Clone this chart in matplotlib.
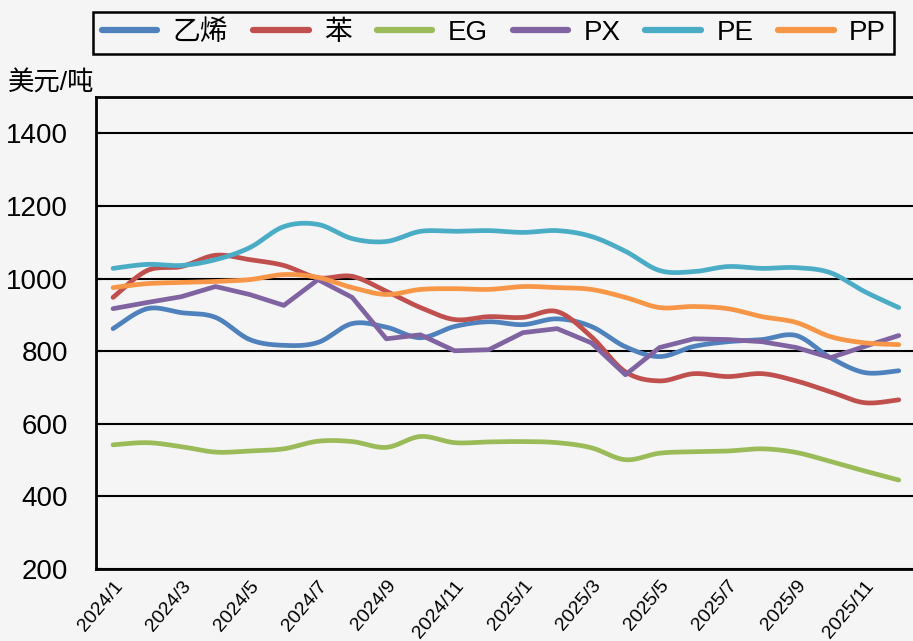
import numpy as np
import matplotlib
matplotlib.use("Agg")
import matplotlib.pyplot as plt

plt.rcParams['font.family'] = ['Liberation Sans', 'Noto Sans CJK SC', 'DejaVu Sans']

months = ['2024/1', '2024/2', '2024/3', '2024/4', '2024/5', '2024/6', '2024/7', '2024/8',
          '2024/9', '2024/10', '2024/11', '2024/12', '2025/1', '2025/2', '2025/3', '2025/4',
          '2025/5', '2025/6', '2025/7', '2025/8', '2025/9', '2025/10', '2025/11', '2025/12']

ethylene = [862, 917, 906, 893, 832, 816, 824, 876, 866, 837, 868, 881, 873, 889, 868, 812,
            785, 813, 826, 832, 843, 782, 741, 746]
benzene = [948, 1022, 1033, 1064, 1052, 1036, 1002, 1006, 965, 920, 887, 895, 893, 909, 840, 743,
           718, 738, 730, 738, 718, 688, 658, 666]
eg = [542, 548, 537, 522, 525, 531, 552, 551, 535, 565, 548, 550, 551, 548, 534, 501,
      519, 523, 525, 531, 521, 496, 470, 445]
px = [917, 934, 950, 978, 956, 926, 997, 948, 834, 845, 801, 804, 851, 862, 823, 735,
      810, 834, 832, 826, 810, 782, 813, 843]
pe = [1028, 1039, 1036, 1052, 1085, 1143, 1149, 1110, 1102, 1130, 1130, 1132, 1127, 1132, 1116, 1075,
      1022, 1019, 1033, 1028, 1030, 1016, 964, 920]
pp = [975, 986, 989, 992, 997, 1011, 1003, 975, 956, 970, 972, 970, 978, 975, 970, 948,
      920, 923, 917, 895, 879, 840, 823, 818]

series = [('乙烯', ethylene, '#4F81BD', True),
          ('苯', benzene, '#C0504D', True),
          ('EG', eg, '#9BBB59', True),
          ('PX', px, '#8064A2', False),
          ('PE', pe, '#4BACC6', True),
          ('PP', pp, '#F79646', True)]


def smooth(x, y, n=20):
    # Catmull-Rom style bezier, like Excel's smoothed line
    x = np.asarray(x, float)
    y = np.asarray(y, float)
    px_ = np.concatenate([[x[0]], x, [x[-1]]])
    py_ = np.concatenate([[y[0]], y, [y[-1]]])
    xs, ys = [], []
    t = np.linspace(0, 1, n, endpoint=False)
    for i in range(1, len(px_) - 2):
        p0 = np.array([px_[i], py_[i]])
        p3 = np.array([px_[i + 1], py_[i + 1]])
        c1 = p0 + (np.array([px_[i + 1], py_[i + 1]]) - np.array([px_[i - 1], py_[i - 1]])) / 6
        c2 = p3 - (np.array([px_[i + 2], py_[i + 2]]) - p0) / 6
        b = ((1 - t) ** 3)[:, None] * p0 + (3 * (1 - t) ** 2 * t)[:, None] * c1 \
            + (3 * (1 - t) * t ** 2)[:, None] * c2 + (t ** 3)[:, None] * p3
        xs.extend(b[:, 0])
        ys.extend(b[:, 1])
    xs.append(x[-1])
    ys.append(y[-1])
    return xs, ys


bg = '#f5f5f5'
fig = plt.figure(figsize=(9.13, 6.41), dpi=100, facecolor=bg)
ax = fig.add_axes([0.1051, 0.1123, 0.898, 0.7364], facecolor=bg)

xi = np.arange(len(months))
for name, vals, color, sm in series:
    if sm:
        sx, sy = smooth(xi, vals)
    else:
        sx, sy = xi, vals
    ax.plot(sx, sy, color=color, lw=3.4, label=name, solid_capstyle='round', solid_joinstyle='round')

ax.set_xlim(-0.5, 23.5)
ax.set_ylim(200, 1500)
ax.set_yticks(range(200, 1401, 200))
ax.yaxis.grid(True, color='black', lw=1.5)
ax.set_axisbelow(True)
ax.set_xticks(xi[::2])
ax.set_xticklabels(months[::2], rotation=50, ha='right', va='top', rotation_mode='anchor', fontsize=14)
ax.tick_params(axis='x', length=0, pad=6)
ax.tick_params(axis='y', direction='in', length=4, width=1.5, labelsize=20, pad=20)
for s in ax.spines.values():
    s.set_color('black')
    s.set_linewidth(2)

fig.text(0.009, 0.871, '美元/吨', fontsize=19, ha='left', va='center')

leg = fig.legend(loc='center', bbox_to_anchor=(0.541, 0.9485), ncol=6, fontsize=20,
                 frameon=True, fancybox=False, edgecolor='black', facecolor=bg,
                 handlelength=2.0, handletextpad=0.55, columnspacing=0.9,
                 borderpad=0.3)
leg.get_frame().set_linewidth(1.8)
leg.get_frame().set_alpha(1)
for h in leg.get_lines():
    h.set_linewidth(4.5)

fig.savefig('out.png', dpi=100, facecolor=bg)
